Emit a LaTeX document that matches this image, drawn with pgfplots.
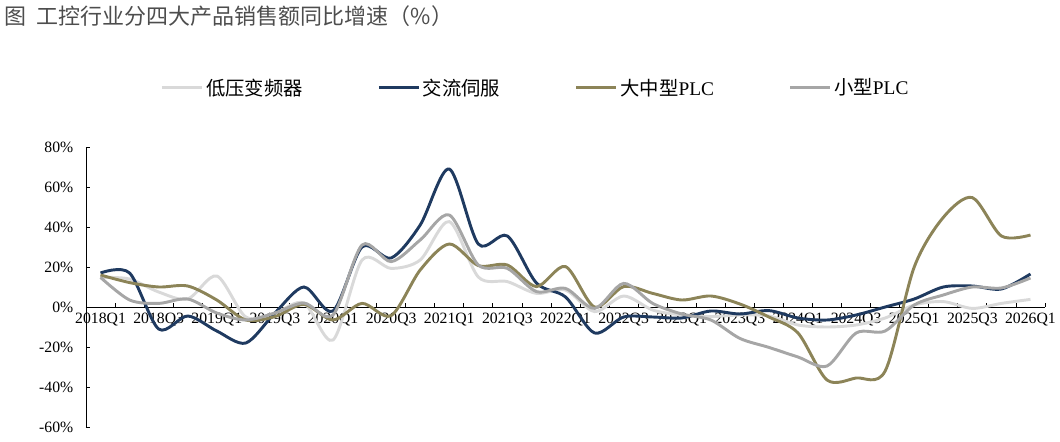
\documentclass[border=0pt]{standalone}
\usepackage{pgfplots}
\pgfplotsset{compat=1.18}
\usepackage{fontspec}
\setmainfont{Liberation Serif}
\newfontfamily\cjk{Noto Sans CJK SC}
\definecolor{lgrey}{HTML}{D9D9D9}
\definecolor{navy}{HTML}{1F3A60}
\definecolor{olive}{HTML}{8C8458}
\definecolor{mgrey}{HTML}{A6A6A6}
\definecolor{titlegrey}{HTML}{4D4D4D}
\pgfplotstableread{
i lv ac lp sp
0 14.8 17 16 14.8
1 14 17 12.2 3.5
2 7.5 -11 10 1.8
3 4 -4.5 10.5 4
4 15.5 -12 3.5 -3
5 -5 -18 -6.5 -6.5
6 -3 -3 -4.8 -3
7 2 10 1.3 2
8 -16.5 -2 -6.5 -4
9 23.5 30 1.8 31
10 19.3 24.5 -4.3 22.7
11 23.5 41 18.5 33.5
12 42.7 69 31.5 46
13 15 31.5 20.7 21
14 12.7 35.5 21 19.3
15 6.8 12 10.2 7.7
16 8.5 5 20.2 9.3
17 -2.3 -13 0 -0.7
18 5.5 -5 10.2 11.8
19 -1.5 -5 6.8 1.8
20 -4 -5.5 3.5 -3.5
21 -4.8 -2 5.5 -6.5
22 -4 -3.5 1.5 -15.7
23 -4.5 -1.8 -5 -20.2
24 -9 -5.5 -13 -25
25 -10 -6.5 -36.5 -29.5
26 -9 -4 -35.5 -13
27 -5.5 0 -32 -12
28 1 4 20 1
29 2.7 10 44.8 6
30 -0.7 10.5 54.7 10
31 1.8 9 35.5 9.5
32 3.8 16.5 36 14.5
}\data
\begin{document}
\begin{tikzpicture}[x=1pt,y=1pt]
\path[use as bounding box] (0,0) rectangle (795,331.5);
\node[anchor=west,inner sep=0pt,text=titlegrey,font=\cjk\fontsize{16.5}{18}\selectfont] at (3,319.5) {图\hspace{8pt}工控行业分四大产品销售额同比增速（\%）};
\begin{axis}[
  at={(64.5pt,11.25pt)}, anchor=south west,
  scale only axis, width=719.25pt, height=210pt,
  xmin=-0.5, xmax=32.5, ymin=-60, ymax=80,
  axis x line*=middle, axis y line*=left,
  axis line style={black, line width=0.6pt},
  xtick={0,2,...,32},
  xticklabels={2018Q1,2018Q3,2019Q1,2019Q3,2020Q1,2020Q3,2021Q1,2021Q3,2022Q1,2022Q3,2023Q1,2023Q3,2024Q1,2024Q3,2025Q1,2025Q3,2026Q1},
  minor xtick={-0.5,0.5,...,32.5},
  major x tick style={draw=none},
  minor x tick style={black, line width=0.6pt},
  major tick length=3pt, minor tick length=3pt,
  xtick align=inside, ytick align=inside,
  ytick={-60,-40,...,80},
  yticklabels={-60\%,-40\%,-20\%,0\%,20\%,40\%,60\%,80\%},
  ytick style={black, line width=0.6pt},
  tick label style={font=\fontsize{11.8}{13}\selectfont, text=black},
  yticklabel style={xshift=-6pt},
  xticklabel style={yshift=-1pt},
  clip=false,
  legend columns=4,
  legend style={draw=none, fill=none, at={(0.469,1.211)}, anchor=center,
    font=\fontsize{14.5}{16}\selectfont, /tikz/every even column/.append style={column sep=54pt},
    inner sep=0pt},
  legend image code/.code={\draw[#1, line width=2.2pt] (0pt,0pt) -- (30pt,0pt);},
  every axis plot/.append style={line width=2.2pt, smooth, mark=none},
]
\addplot[lgrey] table[x=i,y=lv]{\data};
\addlegendentry{{\cjk 低压变频器}}
\addplot[navy] table[x=i,y=ac]{\data};
\addlegendentry{{\cjk 交流伺服}}
\addplot[olive] table[x=i,y=lp]{\data};
\addlegendentry{{\cjk 大中型}PLC}
\addplot[mgrey] table[x=i,y=sp]{\data};
\addlegendentry{{\cjk 小型}PLC}
\end{axis}
\end{tikzpicture}
\end{document}
